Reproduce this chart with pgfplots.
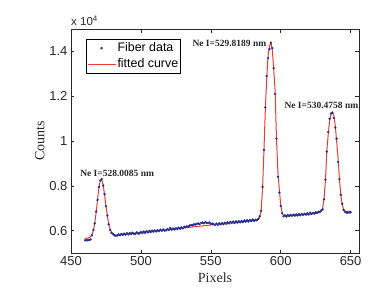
\documentclass[border=0pt]{standalone}
\usepackage{fontspec}
\setmainfont{Liberation Sans}
\newfontfamily\tnr{Liberation Serif}
\usepackage{pgfplots}
\pgfplotsset{compat=1.18}
\usepackage{pgfplotstable}
\definecolor{datablue}{RGB}{35,45,150}
\definecolor{fitred}{RGB}{232,62,48}
\definecolor{axgray}{RGB}{40,40,40}
\pgfplotstableread{
x data fit
460 5570 5650
461 5565 5657
462 5575 5663
463 5580 5688
464 5610 5730
465 5790 5825
466 6030 6013
467 6320 6339
468 6850 6816
469 7370 7390
470 7950 7926
471 8240 8258
472 8300 8275
473 8010 8030
474 7630 7605
475 7090 7112
476 6670 6654
477 6280 6296
478 6030 6054
479 5900 5912
480 5850 5840
481 5790 5810
482 5770 5801
483 5780 5800
484 5830 5807
485 5795 5814
486 5850 5820
487 5810 5827
488 5860 5834
489 5815 5840
490 5880 5847
491 5830 5854
492 5890 5860
493 5845 5867
494 5900 5874
495 5860 5881
496 5850 5887
497 5920 5894
498 5870 5901
499 5880 5907
500 5940 5914
501 5890 5921
502 5960 5927
503 5905 5934
504 5975 5941
505 5920 5948
506 5985 5954
507 5935 5961
508 6000 5968
509 5950 5974
510 6010 5981
511 5960 5988
512 6020 5994
513 5975 6001
514 6040 6008
515 5990 6015
516 6050 6021
517 6000 6028
518 6010 6035
519 6070 6041
520 6030 6048
521 6110 6055
522 6040 6061
523 6090 6068
524 6050 6075
525 6110 6082
526 6070 6088
527 6130 6095
528 6080 6102
529 6145 6108
530 6100 6115
531 6170 6122
532 6150 6128
533 6190 6135
534 6180 6142
535 6230 6149
536 6250 6155
537 6240 6162
538 6280 6169
539 6270 6175
540 6300 6182
541 6320 6189
542 6290 6195
543 6340 6202
544 6360 6209
545 6330 6216
546 6370 6222
547 6350 6229
548 6340 6236
549 6360 6242
550 6300 6249
551 6310 6256
552 6290 6262
553 6250 6269
554 6310 6276
555 6260 6283
556 6330 6289
557 6280 6296
558 6340 6303
559 6290 6309
560 6350 6316
561 6300 6323
562 6370 6329
563 6320 6336
564 6390 6343
565 6340 6350
566 6400 6356
567 6340 6363
568 6410 6370
569 6360 6376
570 6420 6383
571 6370 6390
572 6430 6396
573 6380 6403
574 6450 6410
575 6400 6417
576 6460 6423
577 6410 6430
578 6470 6437
579 6430 6443
580 6490 6450
581 6440 6457
582 6480 6465
583 6460 6475
584 6530 6510
585 6640 6600
586 6880 6900
587 7950 7850
588 9600 9550
589 11500 11400
590 12900 12800
591 13700 13850
592 14100 14250
593 14380 14400
594 14150 14050
595 13250 13200
596 12100 12250
597 10100 10050
598 8400 8600
599 7700 7850
600 7100 7150
601 6780 6800
602 6640 6660
603 6680 6655
604 6630 6658
605 6690 6662
606 6650 6666
607 6700 6670
608 6660 6675
609 6710 6680
610 6665 6685
611 6720 6690
612 6680 6695
613 6730 6700
614 6690 6705
615 6740 6712
616 6700 6718
617 6750 6724
618 6710 6730
619 6770 6736
620 6720 6742
621 6800 6748
622 6740 6754
623 6790 6760
624 6760 6766
625 6820 6772
626 6790 6780
627 6840 6795
628 6830 6820
629 6900 6870
630 6950 7000
631 7400 7420
632 8270 8250
633 9530 9550
634 10400 10300
635 10990 10900
636 11230 11200
637 11250 11300
638 11030 11150
639 10600 10700
640 10100 10000
641 9060 9250
642 8300 8300
643 7600 7600
644 7200 7150
645 6920 6950
646 6830 6870
647 6810 6850
648 6800 6855
649 6810 6860
650 6820 6870
}\spec
\begin{document}
\begin{tikzpicture}
\useasboundingbox (-71pt,-37pt) rectangle (299pt,253pt);
\begin{axis}[
  at={(0,0)}, anchor=south west,
  scale only axis, width=288pt, height=224pt,
  xmin=450, xmax=656, ymin=5000, ymax=15000,
  xtick={450,500,550,600,650},
  ytick={6000,8000,10000,12000,14000},
  yticklabels={0.6,0.8,1,1.2,1.4},
  scaled y ticks=false,
  tick align=inside, major tick length=3.5pt,
  axis line style={draw=axgray, line width=0.9pt},
  every tick/.style={draw=axgray, line width=0.6pt},
  /pgf/number format/assume math mode=true,
  ticklabel style={font=\fontsize{13}{15}\selectfont, text=axgray},
  xlabel={\tnr Pixels}, ylabel={\tnr Counts},
  label style={font=\fontsize{14}{16}\selectfont, text=axgray},
  xlabel style={at={(axis description cs:0.5,-0.112)}, anchor=center},
  ylabel style={at={(axis description cs:-0.108,0.5)}, anchor=center, rotate=0},
  legend style={at={(rel axis cs:0.051,0.955)}, anchor=north west,
    font=\fontsize{12.4}{14}\selectfont, draw=black, line width=0.7pt,
    inner xsep=1pt, inner ysep=2pt, row sep=2.5pt,
    nodes={inner sep=1.5pt}},
  legend cell align=left,
  legend image code/.code={\draw[mark repeat=2,mark phase=2,#1] plot coordinates {(0pt,0pt) (14pt,0pt) (28pt,0pt)};},
  clip=false,
]
\addplot[only marks, mark=*, mark size=1.15pt, color=datablue, mark options={draw=datablue, fill=datablue, line width=0.1pt}] table[x=x, y=data] {\spec};
\addlegendentry{Fiber data}
\addplot[fitred, line width=1pt] table[x=x, y=fit] {\spec};
\addlegendentry{fitted curve}
\node[font=\tnr\bfseries\fontsize{9.5}{11}\selectfont, text=axgray] at (axis cs:483,8533) {Ne I=528.0085 nm};
\node[font=\tnr\bfseries\fontsize{9.5}{11}\selectfont, text=axgray] at (axis cs:563.3,14378) {Ne I=529.8189 nm};
\node[font=\tnr\bfseries\fontsize{9.5}{11}\selectfont, text=axgray] at (axis cs:629.1,11574) {Ne I=530.4758 nm};
\node[anchor=south west, inner sep=0pt, font=\fontsize{11.5}{13}\selectfont, text=axgray] at (rel axis cs:0,1) [yshift=3pt] {x 10\textsuperscript{4}};
\end{axis}
\end{tikzpicture}
\end{document}
